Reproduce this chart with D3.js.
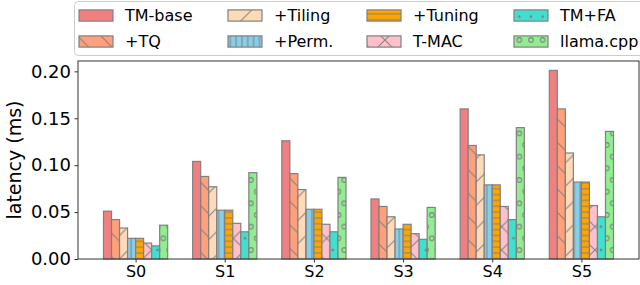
<!DOCTYPE html>
<html>
<head>
<meta charset="utf-8">
<script src="https://cdn.jsdelivr.net/npm/d3@7"></script>
<style>
  body { margin: 0; background: #fff; }
  svg { display: block; font-family: "DejaVu Sans", sans-serif; }
</style>
</head>
<body>
<svg id="chart" width="640" height="285"></svg>
<script>
// Latency per shape (S0..S5) for each optimisation step, grouped bars
// with matplotlib-ish hatches.

let groups = ["S0", "S1", "S2", "S3", "S4", "S5"];

let tmBase = [0.051, 0.104, 0.126, 0.064, 0.160, 0.201];
let tq     = [0.042, 0.088, 0.091, 0.056, 0.121, 0.160];
let tiling = [0.033, 0.077, 0.074, 0.045, 0.111, 0.113];
let perm   = [0.022, 0.052, 0.053, 0.032, 0.079, 0.082];
let tuning = [0.022, 0.052, 0.053, 0.037, 0.079, 0.082];
let tmac   = [0.017, 0.038, 0.037, 0.027, 0.056, 0.057];
let tmfa   = [0.014, 0.029, 0.029, 0.021, 0.042, 0.045];
let llama  = [0.036, 0.092, 0.087, 0.055, 0.140, 0.136];

let seriesNames = ["TM-base", "+TQ", "+Tiling", "+Perm.", "+Tuning", "T-MAC", "TM+FA", "llama.cpp"];
let seriesValues = [tmBase, tq, tiling, perm, tuning, tmac, tmfa, llama];
let seriesColors = ["#F08080", "#FFA07A", "#FFDAB9", "#87CEEB", "#FFA500", "#FFC0CB", "#40E0D0", "#90EE90"];
let seriesHatch = ["", "\\", "/", "|", "-", "x", ".", "o"];

let yTicks = [0, 0.05, 0.10, 0.15, 0.20];

let W = 640, H = 285;
let margin = {left: 78, right: 1, top: 61, bottom: 26};
let BAR_W = 0.09;
let EDGE = "#808080";

let svg = d3.select("#chart");
let defs = svg.append("defs");

let nSeries = seriesNames.length;
let half = nSeries / 2 * BAR_W;
let pad = (groups.length - 1 + 2 * half) * 0.05;

let x = d3.scaleLinear()
  .domain([-half - pad, groups.length - 1 + half + pad])
  .range([margin.left, W - margin.right]);

let yMax = d3.max(seriesValues, s => d3.max(s)) * 1.05;
let y = d3.scaleLinear()
  .domain([0, yMax])
  .range([H - margin.bottom, margin.top]);

// hatch tiles, sizes guessed from the picture
let LINE = 23.33, FINE = 5.83, DOT = 11.67;

function makePattern(id, color, hatch) {
  if (!hatch) return;
  let s = hatch === "|" || hatch === "-" ? FINE : (hatch === "." || hatch === "o" ? DOT : LINE);
  let h = hatch === "." || hatch === "o" ? 2 * DOT : s;
  let p = defs.append("pattern")
    .attr("id", id)
    .attr("patternUnits", "userSpaceOnUse")
    .attr("width", s)
    .attr("height", h)
    .attr("patternTransform", "translate(0," + H + ")");
  p.append("rect").attr("width", s).attr("height", h).attr("fill", color);

  let d = "";
  if (hatch === "\\" || hatch === "x") {
    d += "M0,0L" + s + "," + s + "M-1," + (s - 1) + "L1," + (s + 1) +
         "M" + (s - 1) + ",-1L" + (s + 1) + ",1";
  }
  if (hatch === "/" || hatch === "x") {
    d += "M0," + s + "L" + s + ",0M-1,1L1,-1" +
         "M" + (s - 1) + "," + (s + 1) + "L" + (s + 1) + "," + (s - 1);
  }
  if (hatch === "|") d += "M" + s / 2 + ",0V" + s;
  if (hatch === "-") d += "M0," + s / 2 + "H" + s;
  if (d) {
    p.append("path").attr("d", d)
      .attr("stroke", EDGE).attr("stroke-width", 1).attr("fill", "none");
  }

  if (hatch === "." || hatch === "o") {
    let pts = [[0, 0], [s, 0], [s / 2, DOT], [0, 2 * DOT], [s, 2 * DOT]];
    p.selectAll("circle").data(pts).enter().append("circle")
      .attr("cx", q => q[0]).attr("cy", q => q[1])
      .attr("r", hatch === "." ? 1.2 : 2.3)
      .attr("fill", hatch === "." ? EDGE : "none")
      .attr("stroke", EDGE)
      .attr("stroke-width", hatch === "." ? 0.3 : 1);
  }
}

function fillFor(j) {
  return seriesHatch[j] ? "url(#hatch" + j + ")" : seriesColors[j];
}

seriesNames.forEach((name, j) => makePattern("hatch" + j, seriesColors[j], seriesHatch[j]));

// bars
let barLayer = svg.append("g").attr("class", "bars");
seriesValues.forEach((vals, j) => {
  barLayer.selectAll("rect.s" + j)
    .data(vals)
    .enter().append("rect")
      .attr("class", "s" + j)
      .attr("x", (v, i) => x(i + (j - nSeries / 2) * BAR_W))
      .attr("width", x(BAR_W) - x(0))
      .attr("y", v => y(v))
      .attr("height", v => y(0) - y(v))
      .attr("fill", fillFor(j))
      .attr("stroke", EDGE)
      .attr("stroke-width", 1.2);
});

// axes
let xAxis = d3.axisBottom(x)
  .tickValues(d3.range(groups.length))
  .tickFormat(i => groups[i])
  .tickSize(3.5).tickSizeOuter(0).tickPadding(3.5);
let yAxis = d3.axisLeft(y)
  .tickValues(yTicks)
  .tickFormat(d3.format(".2f"))
  .tickSize(3.5).tickSizeOuter(0).tickPadding(3.5);

let gx = svg.append("g")
  .attr("transform", "translate(0," + y(0) + ")")
  .call(xAxis);
gx.selectAll("text").attr("font-size", 16).attr("font-family", "DejaVu Sans").attr("fill", "#000");

let gy = svg.append("g")
  .attr("transform", "translate(" + margin.left + ",0)")
  .call(yAxis);
gy.selectAll("text").attr("font-size", 18).attr("font-family", "DejaVu Sans").attr("fill", "#000");

svg.selectAll(".domain").remove();
svg.selectAll(".tick line").attr("stroke", "#333");

svg.append("rect")
  .attr("x", margin.left).attr("y", margin.top)
  .attr("width", W - margin.right - margin.left)
  .attr("height", y(0) - margin.top)
  .attr("fill", "none").attr("stroke", "#333").attr("stroke-width", 1);

svg.append("text")
  .attr("transform", "translate(21," + (margin.top + y(0)) / 2 + ") rotate(-90)")
  .attr("text-anchor", "middle")
  .attr("font-size", 19)
  .text("latency (ms)");

// legend: 4 columns, filled column by column
let legend = svg.append("g").attr("class", "legend");
legend.append("rect")
  .attr("x", 74.5).attr("y", 1.5).attr("width", 572).attr("height", 54)
  .attr("rx", 4)
  .attr("fill", "#fff").attr("fill-opacity", 0.8)
  .attr("stroke", "#cccccc");

let colX = [79, 228, 367, 514];
let rowY = [15.5, 41.5];

seriesNames.forEach((name, j) => {
  let cx = colX[Math.floor(j / 2)];
  let cy = rowY[j % 2];
  legend.append("rect")
    .attr("x", cx).attr("y", cy - 5.6)
    .attr("width", 34).attr("height", 11.2)
    .attr("fill", fillFor(j))
    .attr("stroke", EDGE).attr("stroke-width", 1.2);
  legend.append("text")
    .attr("x", cx + 46).attr("y", cy + 5.8)
    .attr("font-size", 16)
    .text(name);
});
</script>
</body>
</html>
